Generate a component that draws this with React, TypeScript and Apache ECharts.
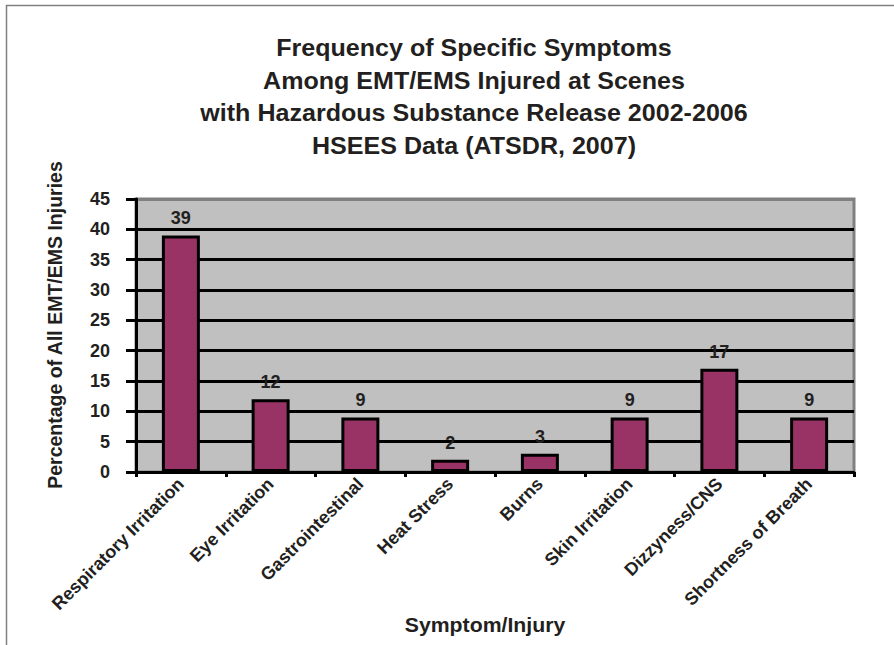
import React, { useEffect, useRef } from "react";
import * as echarts from "echarts";

// Symptom categories and the share of EMT/EMS injuries (%) for each
const categories = [
  "Respiratory Irritation",
  "Eye Irritation",
  "Gastrointestinal",
  "Heat Stress",
  "Burns",
  "Skin Irritation",
  "Dizzyness/CNS",
  "Shortness of Breath",
];
const percentages = [39, 12, 9, 2, 3, 9, 17, 9];

const titleLines = [
  "Frequency of Specific Symptoms",
  "Among EMT/EMS Injured at Scenes",
  "with Hazardous Substance Release 2002-2006",
  "HSEES Data (ATSDR, 2007)",
];
const yAxisTitle = "Percentage of All EMT/EMS Injuries";
const xAxisTitle = "Symptom/Injury";

const yMin = 0;
const yMax = 45;
const yStep = 5;

const FONT = "'Liberation Sans', Arial, Helvetica, sans-serif";
const INK = "#231f20";

export default function App() {
  const ref = useRef<HTMLDivElement>(null);

  useEffect(() => {
    if (!ref.current) return;
    const chart = echarts.init(ref.current, undefined, { renderer: "svg" });

    const gridLineCount = (yMax - yMin) / yStep + 1;
    // black gridlines, the topmost one is part of the grey plot frame
    const splitColors = Array.from({ length: gridLineCount }, (_, i) =>
      i === gridLineCount - 1 ? "#808080" : "#000000"
    );

    chart.setOption({
      animation: false,
      backgroundColor: "#ffffff",
      textStyle: { fontFamily: FONT },
      grid: {
        left: 136,
        right: 40,
        top: 199,
        bottom: 173,
        show: true,
        backgroundColor: "#c0c0c0",
        borderColor: "#808080",
        borderWidth: 3,
      },
      xAxis: {
        type: "category",
        data: categories,
        axisLine: { lineStyle: { color: "#000", width: 3 } },
        axisTick: { show: true, length: 5, lineStyle: { color: "#000", width: 3 } },
        axisLabel: {
          rotate: 45,
          margin: 9,
          interval: 0,
          color: INK,
          fontFamily: FONT,
          fontWeight: "bold",
          fontSize: 18,
        },
      },
      yAxis: {
        type: "value",
        min: yMin,
        max: yMax,
        interval: yStep,
        axisLine: { show: true, lineStyle: { color: "#000", width: 3 } },
        axisTick: { show: true, length: 10, lineStyle: { color: "#000", width: 3 } },
        axisLabel: {
          margin: 26,
          color: INK,
          fontFamily: FONT,
          fontWeight: "bold",
          fontSize: 18,
        },
        splitLine: { show: true, lineStyle: { color: splitColors, width: 3 } },
      },
      series: [
        {
          type: "bar",
          data: percentages,
          barWidth: 38,
          itemStyle: { color: "#993366", borderColor: "#000", borderWidth: 3 },
          label: {
            show: true,
            position: "top",
            distance: 8,
            color: INK,
            fontFamily: FONT,
            fontWeight: "bold",
            fontSize: 18,
          },
        },
      ],
      graphic: [
        {
          type: "polyline",
          shape: { points: [[6.5, 645], [6.5, 5.5], [894, 5.5]] },
          style: { stroke: "#808080", lineWidth: 1.5, fill: null },
          silent: true,
        },
        {
          type: "text",
          x: 474,
          y: 32,
          scaleX: 1.09,
          style: {
            text: titleLines.join("\n"),
            font: `bold 23px ${FONT}`,
            fill: INK,
            lineHeight: 32.5,
            textAlign: "center",
            textVerticalAlign: "top",
          },
        },
        {
          type: "text",
          x: 485,
          y: 625,
          scaleX: 1.09,
          style: {
            text: xAxisTitle,
            font: `bold 19.5px ${FONT}`,
            fill: INK,
            textAlign: "center",
            textVerticalAlign: "middle",
          },
        },
        {
          type: "text",
          x: 55,
          y: 325,
          rotation: Math.PI / 2,
          style: {
            text: yAxisTitle,
            font: `bold 19.5px ${FONT}`,
            fill: INK,
            textAlign: "center",
            textVerticalAlign: "middle",
          },
        },
      ],
    });

    return () => chart.dispose();
  }, []);

  return (
    <div
      ref={ref}
      style={{ position: "absolute", left: 0, top: 0, width: 894, height: 645 }}
    />
  );
}
